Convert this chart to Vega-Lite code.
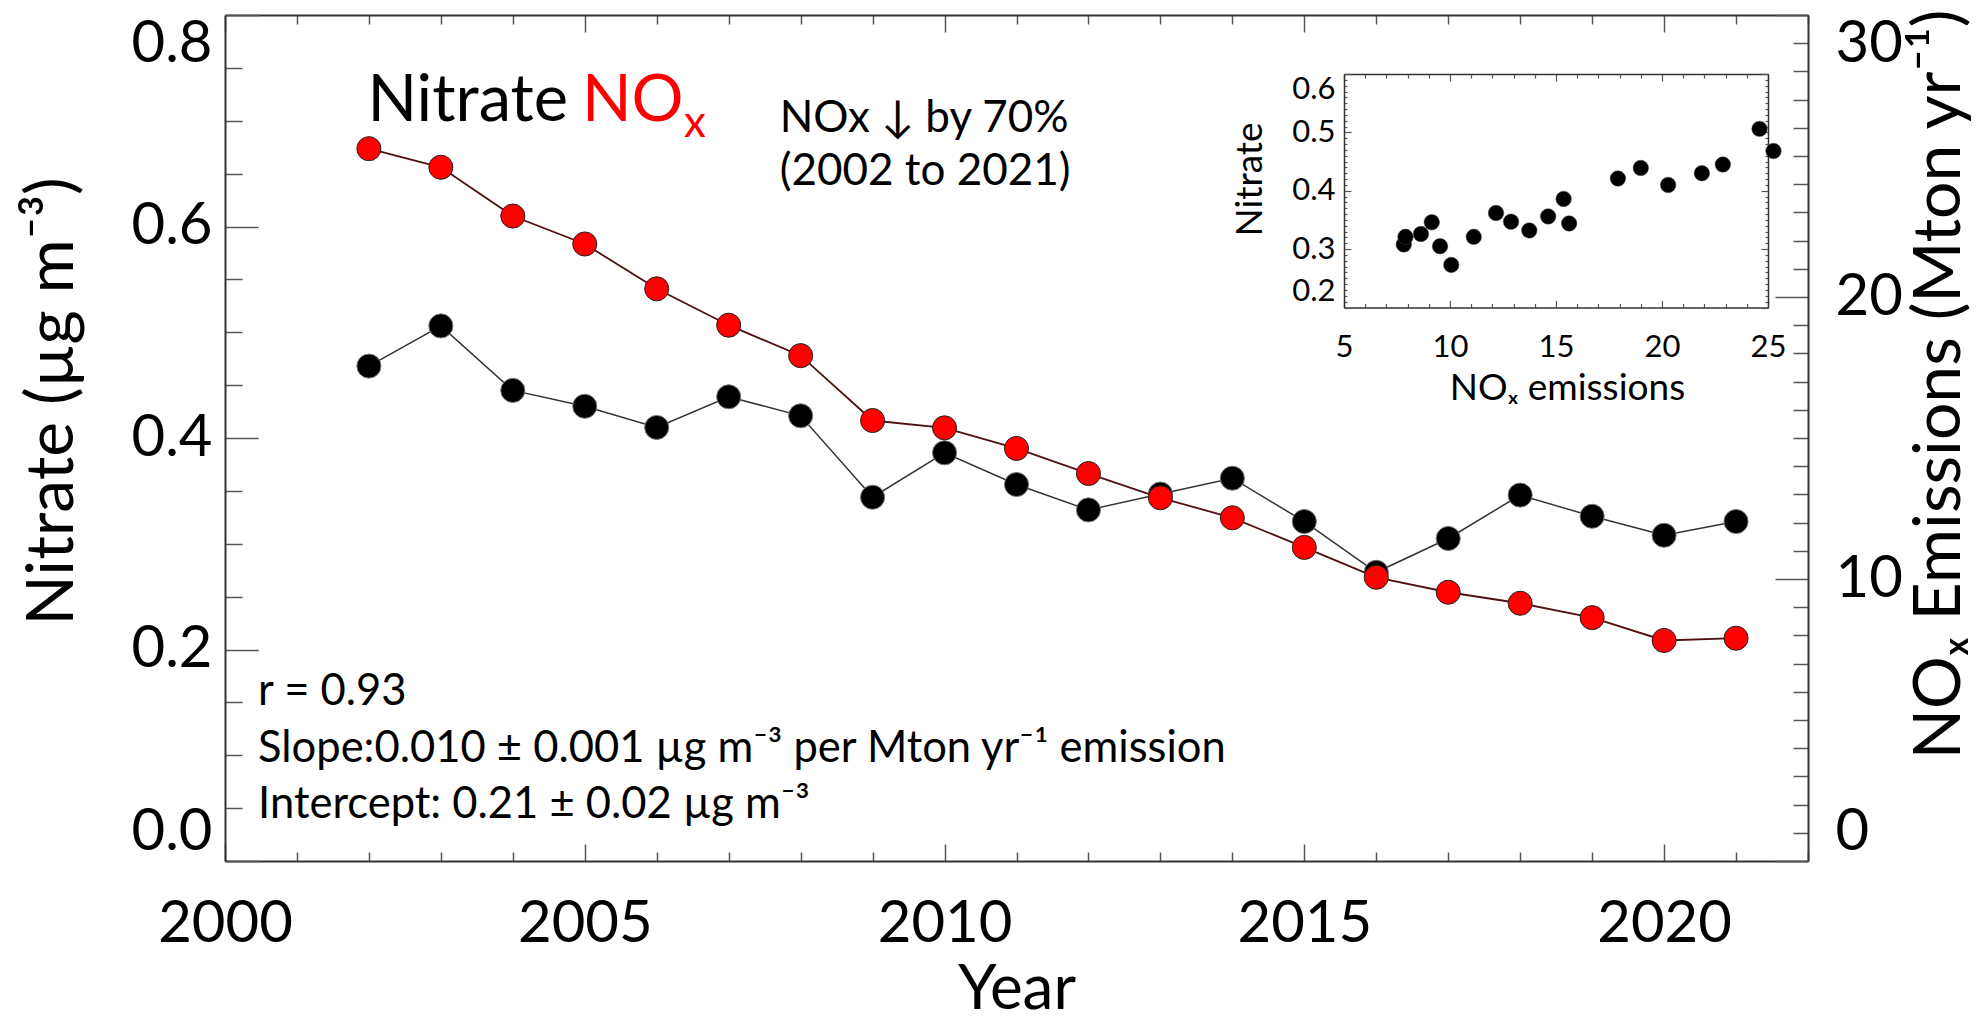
{
  "$schema": "https://vega.github.io/schema/vega-lite/v6.json",
  "autosize": {"type": "none"},
  "width": 1583,
  "height": 846,
  "padding": {"left": 225, "top": 15, "right": 172, "bottom": 165},
  "background": "white",
  "datasets": {
    "d": [
      {"year": 2002, "nitrate": 0.468, "nox": 25.26},
      {"year": 2003, "nitrate": 0.506, "nox": 24.6},
      {"year": 2004, "nitrate": 0.445, "nox": 22.87},
      {"year": 2005, "nitrate": 0.430, "nox": 21.88},
      {"year": 2006, "nitrate": 0.410, "nox": 20.29},
      {"year": 2007, "nitrate": 0.439, "nox": 19.0},
      {"year": 2008, "nitrate": 0.421, "nox": 17.92},
      {"year": 2009, "nitrate": 0.344, "nox": 15.62},
      {"year": 2010, "nitrate": 0.386, "nox": 15.36},
      {"year": 2011, "nitrate": 0.356, "nox": 14.63},
      {"year": 2012, "nitrate": 0.332, "nox": 13.74},
      {"year": 2013, "nitrate": 0.347, "nox": 12.88},
      {"year": 2014, "nitrate": 0.362, "nox": 12.17},
      {"year": 2015, "nitrate": 0.321, "nox": 11.12},
      {"year": 2016, "nitrate": 0.273, "nox": 10.06},
      {"year": 2017, "nitrate": 0.305, "nox": 9.53},
      {"year": 2018, "nitrate": 0.346, "nox": 9.14},
      {"year": 2019, "nitrate": 0.326, "nox": 8.63},
      {"year": 2020, "nitrate": 0.308, "nox": 7.82},
      {"year": 2021, "nitrate": 0.321, "nox": 7.9}
    ]
  },
  "data": {"name": "d"},
  "config": {
    "view": {"stroke": null},
    "axis": {
      "grid": false,
      "labelFont": "Lato",
      "titleFont": "Lato",
      "labelColor": "black",
      "titleColor": "black",
      "titleFontWeight": "normal",
      "domainColor": "#333333",
      "domainWidth": 2,
      "tickColor": "#555555",
      "tickWidth": 1.5,
      "labelOverlap": false,
      "labelBound": false
    },
    "text": {"font": "Lato"}
  },
  "resolve": {
    "scale": {"x": "independent", "y": "independent"},
    "axis": {"x": "independent", "y": "independent"}
  },
  "layer": [
    {
      "encoding": {
        "x": {
          "field": "year", "type": "quantitative",
          "scale": {"domain": [2000, 2022], "nice": false, "zero": false},
          "axis": {
            "orient": "bottom",
            "values": [2000,2001,2002,2003,2004,2005,2006,2007,2008,2009,2010,2011,2012,2013,2014,2015,2016,2017,2018,2019,2020,2021,2022],
            "format": "d",
            "labelExpr": "datum.value % 5 == 0 ? datum.label : ''",
            "tickSize": {"condition": {"test": "datum.value % 5 == 0", "value": -17}, "value": -9},
            "labelPadding": 51,
            "labelFontSize": 58,
            "labelFlush": false,
            "title": "Year",
            "titleFontSize": 62,
            "titlePadding": -2
          }
        },
        "y": {
          "field": "nitrate", "type": "quantitative",
          "scale": {"domain": [0, 0.8], "nice": false, "zero": false},
          "axis": {
            "orient": "left",
            "values": [0,0.05,0.1,0.15,0.2,0.25,0.3,0.35,0.4,0.45,0.5,0.55,0.6,0.65,0.7,0.75,0.8],
            "format": ".1f",
            "labelExpr": "abs(datum.value*5 - round(datum.value*5)) < 0.001 ? datum.label : ''",
            "tickSize": {"condition": {"test": "abs(datum.value*5 - round(datum.value*5)) < 0.001", "value": -33}, "value": -17},
            "labelPadding": 46,
            "labelFontSize": 58,
            "labelFlush": true,
            "title": "Nitrate  (µg m⁻³)",
            "titleFontSize": 66,
            "titleAngle": 270,
            "titleBaseline": "bottom",
            "titleY": 386,
            "titlePadding": 45
          }
        }
      },
      "layer": [
        {"mark": {"type": "line", "color": "#333333", "strokeWidth": 1.5}},
        {"mark": {"type": "point", "filled": true, "fill": "black", "stroke": "#777777", "strokeWidth": 1, "size": 580, "opacity": 1}}
      ]
    },
    {
      "encoding": {
        "x": {
          "field": "year", "type": "quantitative",
          "scale": {"domain": [2000, 2022], "nice": false, "zero": false},
          "axis": {
            "orient": "top",
            "values": [2000,2001,2002,2003,2004,2005,2006,2007,2008,2009,2010,2011,2012,2013,2014,2015,2016,2017,2018,2019,2020,2021,2022],
            "labels": false,
            "tickSize": {"condition": {"test": "datum.value % 5 == 0", "value": -17}, "value": -9},
            "title": null
          }
        },
        "y": {
          "field": "nox", "type": "quantitative",
          "scale": {"domain": [0, 30], "nice": false, "zero": false},
          "axis": {
            "orient": "right",
            "values": [0,1,2,3,4,5,6,7,8,9,10,11,12,13,14,15,16,17,18,19,20,21,22,23,24,25,26,27,28,29,30],
            "format": "d",
            "labelExpr": "datum.value % 10 == 0 ? datum.label : ''",
            "tickSize": {"condition": {"test": "datum.value % 10 == 0", "value": -33}, "value": -15},
            "labelPadding": 60,
            "labelFontSize": 58,
            "labelFlush": true,
            "title": "NOₓ Emissions (Mton yr⁻¹)",
            "titleFontSize": 66,
            "titleAngle": 270,
            "titleBaseline": "top",
            "titleY": 369,
            "titlePadding": 5
          }
        }
      },
      "layer": [
        {"mark": {"type": "line", "color": "#501010", "strokeWidth": 1.8}},
        {"mark": {"type": "point", "filled": true, "fill": "#ff0000", "stroke": "#222222", "strokeWidth": 1, "size": 580, "opacity": 1}}
      ]
    },
    {
      "data": {"values": [{}]},
      "layer": [
        {
          "mark": {"type": "text", "text": "Nitrate", "fontSize": 65, "align": "left", "baseline": "alphabetic", "color": "black"},
          "encoding": {
            "x": {"datum": 2001.98, "type": "quantitative", "scale": {"domain": [2000, 2022], "nice": false, "zero": false}, "axis": null},
            "y": {"datum": 0.6998, "type": "quantitative", "scale": {"domain": [0, 0.8], "nice": false, "zero": false}, "axis": null}
          }
        },
        {
          "mark": {"type": "text", "text": "NO", "fontSize": 65, "align": "left", "baseline": "alphabetic", "color": "#ff0000"},
          "encoding": {
            "x": {"datum": 2004.96, "type": "quantitative", "axis": null},
            "y": {"datum": 0.6998, "type": "quantitative", "axis": null}
          }
        },
        {
          "mark": {"type": "text", "text": "x", "fontSize": 44, "align": "left", "baseline": "alphabetic", "color": "#ff0000"},
          "encoding": {
            "x": {"datum": 2006.38, "type": "quantitative", "axis": null},
            "y": {"datum": 0.6846, "type": "quantitative", "axis": null}
          }
        },
        {
          "mark": {"type": "text", "text": ["NOx ↓ by 70%", "(2002 to 2021)"], "fontSize": 44, "lineHeight": 53, "align": "left", "baseline": "alphabetic", "color": "black"},
          "encoding": {
            "x": {"datum": 2007.71, "type": "quantitative", "axis": null},
            "y": {"datum": 0.6895, "type": "quantitative", "axis": null}
          }
        },
        {
          "mark": {"type": "text", "text": ["r = 0.93", "Slope:0.010 ± 0.001 µg m⁻³ per Mton yr⁻¹ emission", "Intercept: 0.21 ± 0.02 µg m⁻³"], "fontSize": 43.5, "lineHeight": 56.5, "align": "left", "baseline": "alphabetic", "color": "black"},
          "encoding": {
            "x": {"datum": 2000.46, "type": "quantitative", "axis": null},
            "y": {"datum": 0.1475, "type": "quantitative", "axis": null}
          }
        }
      ]
    },
    {
      "resolve": {"axis": {"x": "independent", "y": "independent"}},
      "layer": [
        {
          "mark": {"type": "point", "filled": true, "fill": "black", "stroke": "#444444", "strokeWidth": 0.5, "size": 240, "opacity": 1},
          "encoding": {
            "x": {
              "field": "nox", "type": "quantitative",
              "scale": {"domain": [5, 25], "range": [1119, 1543], "nice": false, "zero": false},
              "axis": {
                "orient": "bottom", "offset": -553.5,
                "values": [5,6,7,8,9,10,11,12,13,14,15,16,17,18,19,20,21,22,23,24,25],
                "format": "d",
                "labelExpr": "datum.value % 5 == 0 ? datum.label : ''",
                "tickSize": {"condition": {"test": "datum.value % 5 == 0", "value": -7}, "value": -4},
                "labelPadding": 32,
                "labelFontSize": 31,
                "labelFlush": false,
                "domainWidth": 1.5,
                "tickWidth": 1.2,
                "title": "NOₓ emissions",
                "titleFontSize": 37,
                "titleX": 1342,
                "titlePadding": 5
              }
            },
            "y": {
              "field": "nitrate", "type": "quantitative",
              "scale": {"domain": [0.2, 0.6], "range": [292.5, 59], "nice": false, "zero": false},
              "axis": {
                "orient": "left", "offset": -1119,
                "values": [0.2,0.21,0.22,0.23,0.24,0.25,0.26,0.27,0.28,0.29,0.3,0.31,0.32,0.33,0.34,0.35,0.36,0.37,0.38,0.39,0.4,0.41,0.42,0.43,0.44,0.45,0.46,0.47,0.48,0.49,0.5,0.51,0.52,0.53,0.54,0.55,0.56,0.57,0.58,0.59,0.6],
                "format": ".1f",
                "labelExpr": "abs(datum.value*10 - round(datum.value*10)) < 0.001 ? datum.label : ''",
                "tickSize": {"condition": {"test": "abs(datum.value*10 - round(datum.value*10)) < 0.001", "value": -7}, "value": -3},
                "labelPadding": 16,
                "labelFontSize": 31,
                "labelFlush": true,
                "domainWidth": 1.5,
                "tickWidth": 1.2,
                "title": "Nitrate",
                "titleFontSize": 37,
                "titleAngle": 270,
                "titleBaseline": "bottom",
                "titleY": 164,
                "titlePadding": 22
              }
            }
          }
        },
        {
          "mark": {"type": "point", "opacity": 0},
          "encoding": {
            "x": {
              "field": "nox", "type": "quantitative",
              "scale": {"domain": [5, 25], "range": [1119, 1543], "nice": false, "zero": false},
              "axis": {
                "orient": "top", "offset": -59,
                "values": [5,6,7,8,9,10,11,12,13,14,15,16,17,18,19,20,21,22,23,24,25],
                "labels": false,
                "tickSize": {"condition": {"test": "datum.value % 5 == 0", "value": -7}, "value": -4},
                "domainWidth": 1.5,
                "tickWidth": 1.2,
                "title": null
              }
            },
            "y": {
              "field": "nitrate", "type": "quantitative",
              "scale": {"domain": [0.2, 0.6], "range": [292.5, 59], "nice": false, "zero": false},
              "axis": {
                "orient": "right", "offset": -40,
                "values": [0.2,0.21,0.22,0.23,0.24,0.25,0.26,0.27,0.28,0.29,0.3,0.31,0.32,0.33,0.34,0.35,0.36,0.37,0.38,0.39,0.4,0.41,0.42,0.43,0.44,0.45,0.46,0.47,0.48,0.49,0.5,0.51,0.52,0.53,0.54,0.55,0.56,0.57,0.58,0.59,0.6],
                "labels": false,
                "tickSize": {"condition": {"test": "abs(datum.value*10 - round(datum.value*10)) < 0.001", "value": -7}, "value": -3},
                "domainWidth": 1.5,
                "tickWidth": 1.2,
                "title": null
              }
            }
          }
        }
      ]
    }
  ]
}
